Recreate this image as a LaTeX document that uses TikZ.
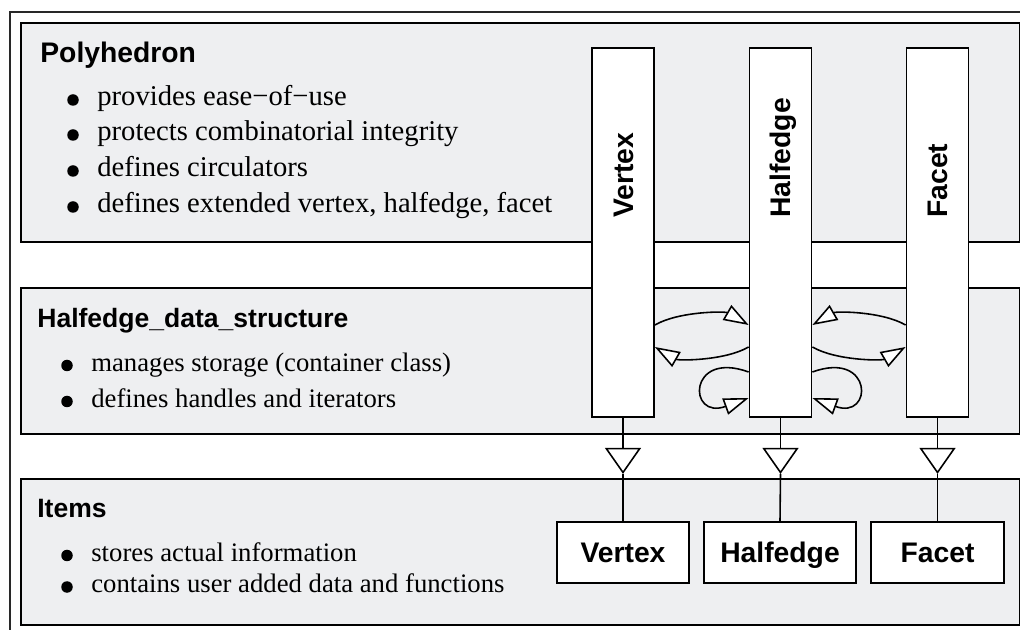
\documentclass[tikz,border=0pt]{standalone}
\usepackage{fontspec}
\setmainfont{Liberation Serif}
\setsansfont{Liberation Sans}
\usetikzlibrary{arrows.meta}

\definecolor{panelgray}{RGB}{238,239,241}
\definecolor{framegray}{RGB}{40,40,40}

\newcommand{\bulletline}[4]{%
  % #1 = node name
  % #2 = x of text start
  % #3 = baseline height
  % #4 = text
  \fill ({#2 - 0.48}, {#3 + 0.12}) circle (0.115);
  \node[bullettext] (#1) at (#2, #3) {#4};
}

\tikzset{
  panel/.style={draw=black, fill=panelgray, line width=1pt, anchor=south west, inner sep=0pt},
  bar/.style={draw=black, fill=white, line width=1pt, minimum width=1.24cm, minimum height=7.38cm, inner sep=0pt},
  itembox/.style={draw=black, fill=white, line width=1pt, minimum height=1.22cm, inner sep=0pt,
    font=\sffamily\bfseries\fontsize{16.1}{19}\selectfont, text height=0.41cm, text depth=0pt},
  heading/.style={font=\sffamily\bfseries\fontsize{15.1}{18}\selectfont, inner sep=0pt, anchor=base west},
  bullettext/.style={font=\fontsize{15.2}{18}\selectfont, inner sep=0pt, anchor=base west},
  barlabel/.style={font=\sffamily\bfseries\fontsize{16.1}{19}\selectfont, rotate=90, anchor=west,
    inner sep=0pt, text height=0.41cm, text depth=0pt},
  relation/.style={line width=0.9pt, -{Triangle[length=0.5cm, width=0.34cm, fill=white]}},
  generalize/.style={line width=0.9pt, -{Triangle[length=0.52cm, width=0.72cm, fill=white]}}
}

\begin{document}
\begin{tikzpicture}
		\useasboundingbox (0, 0) rectangle (20.4, 12.58);
		\clip (0, 0) rectangle (20.4, 12.58);
		\draw[framegray, line width=1pt] (0.2, -1) rectangle (21, 12.34);

		\node[panel, minimum width=19.98cm, minimum height=4.38cm] (poly) at (0.4, 7.72) {};
		\node[panel, minimum width=19.98cm, minimum height=2.92cm] (hds) at (0.4, 3.88) {};
		\node[panel, minimum width=19.98cm, minimum height=2.92cm] (items) at (0.4, 0.06) {};

		\begin{scope}[heading/.append style={font=\sffamily\bfseries\fontsize{16.1}{19}\selectfont},
		              bullettext/.append style={font=\fontsize{16.3}{19}\selectfont}]
		\node[heading] (polytitle) at (0.8, 11.32) {Polyhedron};
		\bulletline{poly1}{1.94}{10.46}{provides ease−of−use}
		\bulletline{poly2}{1.94}{9.76}{protects combinatorial integrity}
		\bulletline{poly3}{1.94}{9.04}{defines circulators}
		\bulletline{poly4}{1.94}{8.32}{defines extended vertex, halfedge, facet}
		\end{scope}

		\node[heading] (hdstitle) at (0.74, 6.02) {Halfedge\_data\_structure};
		\bulletline{hds1}{1.82}{5.15}{manages storage (container class)}
		\bulletline{hds2}{1.82}{4.43}{defines handles and iterators}

		\node[heading] (itemstitle) at (0.74, 2.22) {Items};
		\bulletline{items1}{1.82}{1.35}{stores actual information}
		\bulletline{items2}{1.82}{0.72}{contains user added data and functions}

		\node[bar] (vbar) at (12.46, 7.93) {};
		\node[bar] (hbar) at (15.61, 7.93) {};
		\node[bar] (fbar) at (18.75, 7.93) {};
		\node[barlabel] (vlabel) at ([yshift=0.29cm]vbar.center) {Vertex};
		\node[barlabel] (hlabel) at ([yshift=0.29cm]hbar.center) {Halfedge};
		\node[barlabel] (flabel) at ([yshift=0.29cm]fbar.center) {Facet};

		\node[itembox, minimum width=2.64cm] (vitem) at (12.46, 1.53) {Vertex};
		\node[itembox, minimum width=3.04cm] (hitem) at (15.6, 1.53) {Halfedge};
		\node[itembox, minimum width=2.66cm] (fitem) at (18.75, 1.53) {Facet};

		\draw[relation] ([yshift=-1.85cm]vbar.east) .. controls +(30:0.55) and +(150:0.55) .. ([yshift=-1.85cm]hbar.west);
		\draw[relation] ([yshift=-2.29cm]hbar.west) .. controls +(210:0.55) and +(-30:0.55) .. ([yshift=-2.29cm]vbar.east);
		\draw[relation] ([yshift=-1.85cm]fbar.west) .. controls +(150:0.55) and +(30:0.55) .. ([yshift=-1.85cm]hbar.east);
		\draw[relation] ([yshift=-2.29cm]hbar.east) .. controls +(-30:0.55) and +(210:0.55) .. ([yshift=-2.29cm]fbar.west);
		\draw[relation] ([yshift=-2.79cm]hbar.west) .. controls +(160:1.3) and +(200:1.3) .. ([yshift=-3.31cm]hbar.west);
		\draw[relation] ([yshift=-2.79cm]hbar.east) .. controls +(20:1.3) and +(-20:1.3) .. ([yshift=-3.31cm]hbar.east);

		\coordinate (vtip) at ([yshift=-1.12cm]vbar.south);
		\coordinate (htip) at ([yshift=-1.12cm]hbar.south);
		\coordinate (ftip) at ([yshift=-1.12cm]fbar.south);
		\draw[generalize] (vbar.south) -- (vtip);
		\draw[generalize] (hbar.south) -- (htip);
		\draw[generalize] (fbar.south) -- (ftip);
		\draw[line width=0.9pt] (vtip) -- (vitem.north);
		\draw[line width=0.9pt] (htip) -- (hitem.north);
		\draw[line width=0.9pt] (ftip) -- (fitem.north);
	\end{tikzpicture}
\end{document}
